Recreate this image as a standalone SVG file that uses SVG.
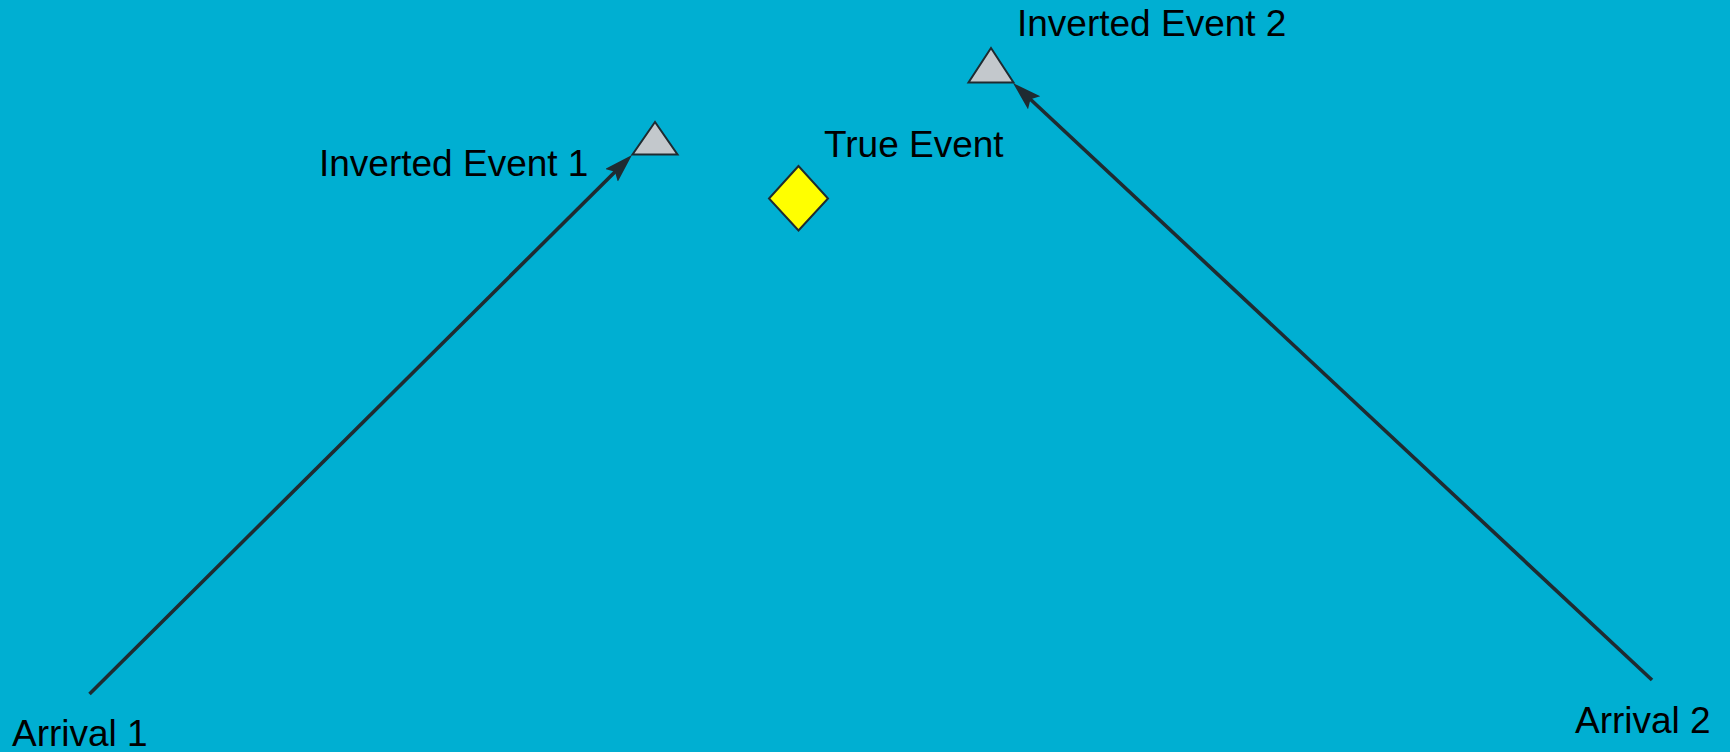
<svg xmlns="http://www.w3.org/2000/svg" width="1730" height="752" viewBox="0 0 1730 752">
<style>
.lbl{font-family:"Liberation Sans",Arial,sans-serif;font-size:37px;fill:#000}
.inv{fill:#C3C8CC;stroke:#1F2B31;stroke-width:2;stroke-linejoin:miter}
.true{fill:#FFFF00;stroke:#1F2B31;stroke-width:2}
.conn{stroke:#1F2B31;stroke-width:3.6;fill:none}
</style>
<defs>
<marker id="arr" markerUnits="userSpaceOnUse" markerWidth="34" markerHeight="22" refX="18" refY="9" orient="auto">
<path d="M0,0 L29,9 L0,18 L5,9 Z" fill="#1F2B31"/>
</marker>
</defs>
<rect width="1730" height="752" fill="#00AFD2"/>
<g id="connectors">
<line class="conn" x1="89.5" y1="694" x2="624.2" y2="162.7" marker-end="url(#arr)"/>
<line class="conn" x1="1652" y1="680" x2="1021" y2="90.5" marker-end="url(#arr)"/>
</g>
<g id="inverted1">
<polygon class="inv" points="655,122 632.5,154.5 677.5,154.5"/>
<text class="lbl" x="319" y="175.5">Inverted Event 1</text>
</g>
<g id="inverted2">
<polygon class="inv" points="991,48 968.5,82.5 1013.5,82.5"/>
<text class="lbl" x="1017" y="36">Inverted Event 2</text>
</g>
<g id="trueEvent">
<polygon class="true" points="798.5,166 769,198.5 798.5,230.5 828,198.5"/>
<text class="lbl" x="824" y="156.5">True Event</text>
</g>
<g id="arrival1">
<text class="lbl" x="12" y="746">Arrival 1</text>
</g>
<g id="arrival2">
<text class="lbl" x="1575" y="733">Arrival 2</text>
</g>
</svg>
